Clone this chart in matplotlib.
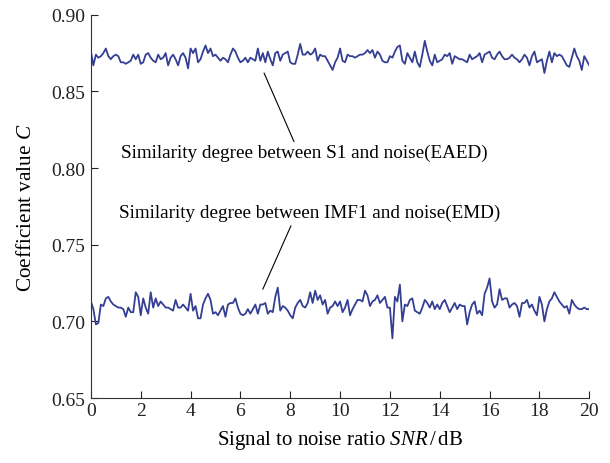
import numpy as np
import matplotlib
matplotlib.use("Agg")
import matplotlib.pyplot as plt

# ---------------- data ----------------
snr = np.round(np.arange(0, 20.01, 0.1), 1)

eaed = [
    0.876, 0.867, 0.874, 0.872, 0.873, 0.875, 0.878, 0.873, 0.871, 0.873,
    0.874, 0.873, 0.869, 0.869, 0.868, 0.869, 0.870, 0.874, 0.871, 0.874,
    0.868, 0.869, 0.874, 0.875, 0.872, 0.870, 0.869, 0.874, 0.871, 0.872,
    0.875, 0.867, 0.872, 0.874, 0.871, 0.867, 0.873, 0.875, 0.872, 0.865,
    0.878, 0.875, 0.878, 0.869, 0.871, 0.876, 0.880, 0.875, 0.878, 0.873,
    0.874, 0.872, 0.870, 0.872, 0.871, 0.869, 0.874, 0.878, 0.876, 0.872,
    0.869, 0.870, 0.872, 0.869, 0.872, 0.871, 0.870, 0.878, 0.870, 0.875,
    0.869, 0.876, 0.871, 0.867, 0.875, 0.876, 0.870, 0.874, 0.875, 0.876,
    0.869, 0.868, 0.868, 0.874, 0.881, 0.874, 0.874, 0.876, 0.874, 0.875,
    0.878, 0.870, 0.874, 0.873, 0.873, 0.870, 0.867, 0.864, 0.869, 0.872,
    0.878, 0.870, 0.869, 0.874, 0.873, 0.873, 0.872, 0.873, 0.874, 0.874,
    0.875, 0.877, 0.875, 0.877, 0.872, 0.876, 0.874, 0.870, 0.869, 0.869,
    0.873, 0.872, 0.876, 0.879, 0.880, 0.870, 0.868, 0.875, 0.872, 0.869,
    0.876, 0.869, 0.866, 0.874, 0.883, 0.876, 0.870, 0.867, 0.874, 0.869,
    0.870, 0.871, 0.874, 0.873, 0.875, 0.868, 0.873, 0.872, 0.871, 0.871,
    0.870, 0.869, 0.874, 0.871, 0.872, 0.873, 0.875, 0.869, 0.874, 0.875,
    0.876, 0.872, 0.871, 0.874, 0.876, 0.873, 0.871, 0.871, 0.872, 0.874,
    0.872, 0.871, 0.869, 0.871, 0.874, 0.872, 0.867, 0.873, 0.876, 0.869,
    0.870, 0.871, 0.862, 0.870, 0.876, 0.869, 0.875, 0.873, 0.874, 0.873,
    0.870, 0.867, 0.866, 0.872, 0.878, 0.873, 0.870, 0.864, 0.873, 0.870,
    0.867,
]

emd = [
    0.713, 0.708, 0.698, 0.699, 0.711, 0.710, 0.715, 0.716, 0.713, 0.711,
    0.710, 0.709, 0.709, 0.708, 0.703, 0.709, 0.706, 0.706, 0.719, 0.716,
    0.704, 0.715, 0.709, 0.705, 0.719, 0.709, 0.715, 0.710, 0.713, 0.711,
    0.709, 0.709, 0.708, 0.707, 0.714, 0.709, 0.709, 0.711, 0.709, 0.707,
    0.718, 0.707, 0.710, 0.702, 0.702, 0.711, 0.715, 0.718, 0.714, 0.705,
    0.706, 0.704, 0.707, 0.710, 0.703, 0.711, 0.712, 0.712, 0.715, 0.709,
    0.705, 0.704, 0.705, 0.708, 0.705, 0.708, 0.711, 0.705, 0.711, 0.711,
    0.712, 0.705, 0.707, 0.706, 0.716, 0.722, 0.707, 0.710, 0.709, 0.707,
    0.704, 0.702, 0.709, 0.712, 0.714, 0.710, 0.709, 0.712, 0.719, 0.712,
    0.720, 0.714, 0.717, 0.711, 0.714, 0.705, 0.709, 0.710, 0.713, 0.710,
    0.713, 0.706, 0.709, 0.714, 0.704, 0.708, 0.711, 0.714, 0.714, 0.713,
    0.720, 0.717, 0.710, 0.713, 0.714, 0.717, 0.712, 0.714, 0.716, 0.709,
    0.709, 0.689, 0.716, 0.713, 0.724, 0.700, 0.711, 0.710, 0.714, 0.715,
    0.707, 0.706, 0.705, 0.709, 0.714, 0.712, 0.709, 0.713, 0.708, 0.711,
    0.708, 0.712, 0.714, 0.710, 0.706, 0.709, 0.712, 0.708, 0.711, 0.710,
    0.710, 0.698, 0.706, 0.711, 0.713, 0.705, 0.707, 0.704, 0.718, 0.722,
    0.728, 0.713, 0.709, 0.711, 0.721, 0.714, 0.715, 0.715, 0.709, 0.711,
    0.712, 0.710, 0.703, 0.712, 0.712, 0.714, 0.709, 0.711, 0.707, 0.704,
    0.716, 0.711, 0.700, 0.708, 0.713, 0.715, 0.719, 0.716, 0.713, 0.711,
    0.709, 0.710, 0.705, 0.714, 0.711, 0.709, 0.708, 0.708, 0.709, 0.708,
    0.708,
]

xticks = [0, 2, 4, 6, 8, 10, 12, 14, 16, 18, 20]
yticks = [0.65, 0.70, 0.75, 0.80, 0.85, 0.90]
label_eaed = "Similarity degree between S1 and noise(EAED)"
label_emd = "Similarity degree between IMF1 and noise(EMD)"
xlabel = r"Signal to noise ratio $\mathit{SNR}\,/\,\mathrm{dB}$"
ylabel = r"Coefficient value $\mathit{C}$"

# ---------------- style ----------------
plt.rcParams["font.family"] = ["Liberation Serif", "DejaVu Serif"]
plt.rcParams["mathtext.fontset"] = "custom"
plt.rcParams["mathtext.rm"] = "Liberation Serif"
plt.rcParams["mathtext.it"] = "Liberation Serif:italic"

line_color = "#343f93"

fig = plt.figure(figsize=(6.10, 4.64), dpi=100)
ax = fig.add_axes([0.149, 0.140, 0.817, 0.826])

ax.plot(snr, eaed, color=line_color, lw=1.3)
ax.plot(snr, emd, color=line_color, lw=1.3)

ax.set_xlim(0, 20)
ax.set_ylim(0.65, 0.90)
ax.set_xticks(xticks)
ax.set_yticks(yticks)
ax.set_xticklabels([str(v) for v in xticks])
ax.set_yticklabels([f"{v:.2f}" for v in yticks])
ax.tick_params(direction="in", length=5, width=0.8, labelsize=14, colors="#222222")
ax.tick_params(axis="x", pad=3)
ax.tick_params(axis="y", pad=4)

for s in ["top", "right"]:
    ax.spines[s].set_visible(False)
for s in ["left", "bottom"]:
    ax.spines[s].set_linewidth(0.8)
    ax.spines[s].set_color("#333333")

ax.set_xlabel(xlabel, fontsize=15, labelpad=6)
ax.set_ylabel(ylabel, fontsize=15.3, labelpad=11)

# leader lines
ax.annotate("", xy=(6.95, 0.862), xytext=(8.15, 0.8173),
            arrowprops=dict(arrowstyle="-", color="black", lw=0.8,
                            shrinkA=0, shrinkB=0))
ax.annotate("", xy=(6.9, 0.721), xytext=(8.03, 0.7624),
            arrowprops=dict(arrowstyle="-", color="black", lw=0.8,
                            shrinkA=0, shrinkB=0))
# annotation texts
ax.text(8.55, 0.8101, label_eaed, fontsize=13.8, ha="center", va="center")
ax.text(8.78, 0.7709, label_emd, fontsize=13.8, ha="center", va="center")

fig.savefig("out.png", dpi=100)
